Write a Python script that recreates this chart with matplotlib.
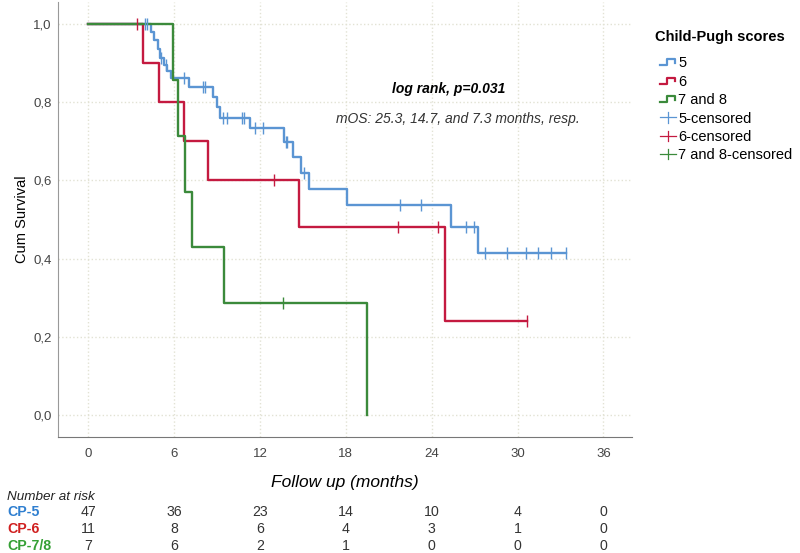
import numpy as np
import matplotlib
matplotlib.use("Agg")
import matplotlib.pyplot as plt
from matplotlib.lines import Line2D
from matplotlib.legend_handler import HandlerBase
from matplotlib import font_manager as fm
import matplotlib.transforms as mtransforms

plt.rcParams['font.family'] = ['Liberation Sans', 'DejaVu Sans']

# step points (months, cum survival)
cp5_t = [0, 4.4, 4.6, 4.85, 5.0, 5.3, 5.5, 5.75, 7.06, 8.70, 8.98, 9.21, 11.31,
         13.69, 14.27, 14.86, 15.39, 18.08, 25.36, 27.23, 33.37]
cp5_s = [1.0, 0.978, 0.957, 0.935, 0.913, 0.893, 0.880, 0.862, 0.838, 0.813, 0.787,
         0.760, 0.732, 0.698, 0.660, 0.619, 0.577, 0.536, 0.481, 0.413, 0.413]
cp5_cens = [3.96, 4.1, 5.1, 5.4, 6.69, 8.0, 8.16, 9.44, 9.68, 10.73, 10.89, 11.66,
            12.24, 13.8, 13.9, 15.04, 21.81, 23.28, 26.41, 26.95, 27.72, 29.24,
            30.57, 31.46, 32.37, 33.37]

cp6_t = [0, 3.84, 4.96, 6.69, 8.37, 14.69, 24.92, 30.69]
cp6_s = [1.0, 0.90, 0.80, 0.70, 0.60, 0.48, 0.24, 0.24]
cp6_cens = [3.38, 12.97, 21.62, 24.43, 30.69]

cp78_t = [0, 5.94, 6.25, 6.76, 7.27, 9.47, 19.5]
cp78_s = [1.0, 0.857, 0.714, 0.571, 0.429, 0.286, 0.0]
cp78_cens = [13.6]

risk_times = [0, 6, 12, 18, 24, 30, 36]
risk_cp5 = [47, 36, 23, 14, 10, 4, 0]
risk_cp6 = [11, 8, 6, 4, 3, 1, 0]
risk_cp78 = [7, 6, 2, 1, 0, 0, 0]

c_blue = '#5b95d3'
c_red = '#c41a40'
c_green = '#3b8a3b'


class StepHandler(HandlerBase):
    def create_artists(self, legend, orig, xd, yd, w, h, fontsize, trans):
        xs = np.array([0, 0.45, 0.45, 0.95, 0.95]) * w - xd
        ys = np.array([0.2, 0.2, 0.8, 0.8, 0.45]) * h - yd
        ln = Line2D(xs, ys, color=orig.get_color(), lw=1.6, transform=trans)
        return [ln]


class CensHandler(HandlerBase):
    def create_artists(self, legend, orig, xd, yd, w, h, fontsize, trans):
        a = Line2D([-xd, w - xd], [0.5 * h - yd] * 2, color=orig.get_color(), lw=0.9, transform=trans)
        b = Line2D([0.5 * w - xd] * 2, [0.0 - yd, h - yd], color=orig.get_color(), lw=0.9, transform=trans)
        return [a, b]


fig = plt.figure(figsize=(8, 5.53), dpi=100)
ax = fig.add_axes([0.0729, 0.2103, 0.7171, 0.7861])

groups = [(cp5_t, cp5_s, cp5_cens, c_blue), (cp6_t, cp6_s, cp6_cens, c_red),
          (cp78_t, cp78_s, cp78_cens, c_green)]
step_lines = []
cens_lines = []
for t, s, cens, col in groups:
    ln, = ax.step(t, s, where='post', color=col, lw=1.7, zorder=3)
    t_arr = np.array(t)
    s_arr = np.array(s)
    idx = np.searchsorted(t_arr, cens, side='right') - 1
    cl, = ax.plot(cens, s_arr[idx], ls='none', marker='|', ms=8, mew=1.0, color=col, zorder=4)
    step_lines.append(ln)
    cens_lines.append(cl)

ax.set_xlim(-2.1, 38.0)
ax.set_ylim(-0.055, 1.055)
ax.set_xticks(risk_times)
ax.set_yticks([0, 0.2, 0.4, 0.6, 0.8, 1.0])
ax.set_yticklabels(['0,0', '0,2', '0,4', '0,6', '0,8', '1,0'])
ax.tick_params(length=0, labelsize=9.5, labelcolor='#444444')
ax.tick_params(axis='x', pad=8)
ax.tick_params(axis='y', pad=5)
ax.grid(True, ls=':', color='#e2e2d4', lw=1.0)
for sp in ['top', 'right']:
    ax.spines[sp].set_visible(False)
ax.spines['left'].set_color('#999999')
ax.spines['bottom'].set_color('#777777')
ax.set_ylabel('Cum Survival', fontsize=10.5, labelpad=3)
ax.set_xlabel('Follow up (months)', fontsize=12.5, style='italic', labelpad=11)

ax.text(25.2, 0.832, 'log rank, p=0.031', fontsize=10, style='italic', weight='bold',
        ha='center', va='center')
ax.text(25.8, 0.756, 'mOS: 25.3, 14.7, and 7.3 months, resp.', fontsize=10,
        style='italic', ha='center', va='center', color='#333333')

labels = ['5', '6', '7 and 8', '5-censored', '6-censored', '7 and 8-censored']
handler_map = {}
for ln in step_lines:
    handler_map[ln] = StepHandler()
for cl in cens_lines:
    handler_map[cl] = CensHandler()
fig.text(0.819, 0.933, 'Child-Pugh scores', fontsize=10.5, weight='bold',
         ha='left', va='center')
leg = ax.legend(step_lines + cens_lines, labels, handler_map=handler_map,
                loc='upper left', bbox_to_anchor=(0.825, 0.898),
                bbox_transform=fig.transFigure, frameon=False, fontsize=10.5,
                handlelength=1.1, handletextpad=0.15, labelspacing=0.3,
                borderpad=0, borderaxespad=0)

# number at risk table
try:
    fm.findfont('Liberation Sans Narrow', fallback_to_default=False)
    tfam = ['Liberation Sans Narrow', 'DejaVu Sans']
    tsize = 11
except Exception:
    tfam = ['Liberation Sans', 'DejaVu Sans']
    tsize = 10.2

trans = mtransforms.blended_transform_factory(ax.transData, fig.transFigure)
fig.text(0.009, 0.1013, 'Number at risk', family=tfam, fontsize=tsize - 0.5, style='italic',
         va='center', ha='left', color='#222222')
rows = [('CP-5', risk_cp5, '#2f7fd0', 0.0741), ('CP-6', risk_cp6, '#d02020', 0.0434),
        ('CP-7/8', risk_cp78, '#35a035', 0.0127)]
for name, vals, col, yy in rows:
    fig.text(0.009, yy, name, family=tfam, fontsize=tsize, weight='bold', color=col,
             va='center', ha='left')
    for tx, v in zip(risk_times, vals):
        ax.text(tx, yy, str(v), transform=trans, family=tfam, fontsize=tsize,
                ha='center', va='center', color='#333333')

fig.savefig('out.png', dpi=100)
